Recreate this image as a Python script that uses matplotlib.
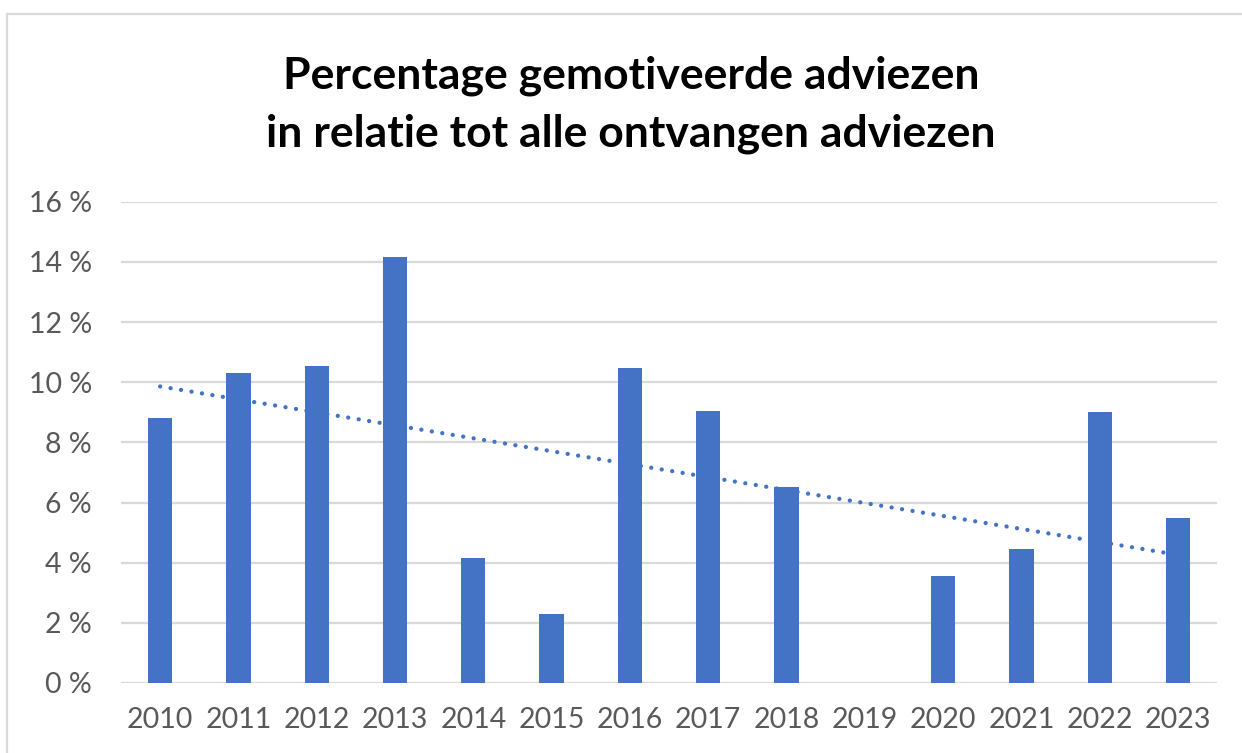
import numpy as np
import matplotlib.pyplot as plt
from matplotlib.patches import Rectangle

years = ["2010", "2011", "2012", "2013", "2014", "2015", "2016",
         "2017", "2018", "2019", "2020", "2021", "2022", "2023"]
percent = [8.8, 10.3, 10.55, 14.17, 4.16, 2.3, 10.48,
           9.05, 6.52, 0.0, 3.56, 4.46, 9.0, 5.49]
yticks = [0, 2, 4, 6, 8, 10, 12, 14, 16]

blue = "#4472C4"
grey_text = "#595959"
grid_col = "#D9D9D9"

plt.rcParams['font.family'] = ['Lato', 'DejaVu Sans']

fig = plt.figure(figsize=(12.42, 7.53), dpi=100)
ax = fig.add_axes([0.0974, 0.093, 0.8826, 0.639])

x = np.arange(len(years))
ax.bar(x, percent, width=0.31, color=blue, zorder=3)

# linear trendline (Excel style)
coef = np.polyfit(x, percent, 1)
ax.plot(x, np.polyval(coef, x), color=blue, lw=3.1,
        linestyle=(0, (0.01, 2.45)), dash_capstyle="round", zorder=4)

ax.set_xlim(-0.5, len(years) - 0.5)
ax.set_ylim(0, 16)
ax.set_yticks(yticks)
ax.set_yticklabels([f"{t} %" for t in yticks])
ax.set_xticks(x)
ax.set_xticklabels(years)
ax.tick_params(length=0, labelsize=20.5, labelcolor=grey_text)
ax.tick_params(axis="y", pad=21)
ax.tick_params(axis="x", pad=17)
ax.grid(axis="y", color=grid_col, lw=1.6, zorder=0)
for s in ax.spines.values():
    s.set_visible(False)

fig.text(0.508, 0.90, "Percentage gemotiveerde adviezen", ha="center", va="center",
         fontsize=32, fontweight="bold", color="black")
fig.text(0.508, 0.823, "in relatie tot alle ontvangen adviezen", ha="center", va="center",
         fontsize=32, fontweight="bold", color="black")

# chart frame
fig.patches.append(Rectangle((7 / 1242, -0.05), 1.1, 0.05 + (753 - 14) / 753,
                             transform=fig.transFigure, fill=False,
                             edgecolor=grid_col, lw=1.6))

fig.savefig("out.png", dpi=100)
